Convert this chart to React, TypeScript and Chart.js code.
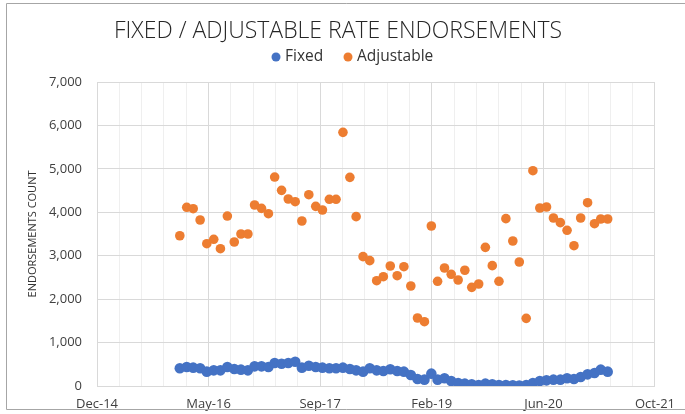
import React, { useEffect, useRef } from "react";
import { Chart, registerables } from "chart.js";

Chart.register(...registerables);

const title = "FIXED / ADJUSTABLE RATE ENDORSEMENTS";
const seriesNames = ["Fixed", "Adjustable"];
const seriesColors = ["#4472C4", "#ED7D31"];
const yAxisTitle = "ENDORSEMENTS COUNT";
const xTickLabels = ["Dec-14", "May-16", "Sep-17", "Feb-19", "Jun-20", "Oct-21"];
const axisStartDate = "2014-12-26";
const axisMajorDays = 500;

const months = [
  "2016-01", "2016-02", "2016-03", "2016-04", "2016-05", "2016-06", "2016-07", "2016-08", "2016-09", "2016-10", "2016-11", "2016-12",
  "2017-01", "2017-02", "2017-03", "2017-04", "2017-05", "2017-06", "2017-07", "2017-08", "2017-09", "2017-10", "2017-11", "2017-12",
  "2018-01", "2018-02", "2018-03", "2018-04", "2018-05", "2018-06", "2018-07", "2018-08", "2018-09", "2018-10", "2018-11", "2018-12",
  "2019-01", "2019-02", "2019-03", "2019-04", "2019-05", "2019-06", "2019-07", "2019-08", "2019-09", "2019-10", "2019-11", "2019-12",
  "2020-01", "2020-02", "2020-03", "2020-04", "2020-05", "2020-06", "2020-07", "2020-08", "2020-09", "2020-10", "2020-11", "2020-12",
  "2021-01", "2021-02", "2021-03", "2021-04",
];

const fixedValues = [
  407, 437, 422, 407, 330, 360, 360, 437, 391, 376, 360, 452,
  452, 437, 530, 514, 530, 560, 422, 468, 437, 422, 407, 407,
  422, 391, 360, 330, 407, 360, 345, 385, 345, 330, 253, 161,
  146, 284, 146, 177, 115, 69, 54, 38, 23, 54, 38, 23,
  23, 15, 10, 23, 69, 115, 130, 146, 146, 177, 161, 207,
  268, 300, 376, 330,
];

const adjustableValues = [
  3460, 4115, 4083, 3822, 3277, 3378, 3162, 3914, 3316, 3500, 3500, 4168,
  4091, 3968, 4812, 4505, 4306, 4244, 3799, 4405, 4137, 4053, 4299, 4299,
  5841, 4805, 3899, 2978, 2886, 2425, 2517, 2763, 2540, 2747, 2303, 1566,
  1481, 3684, 2411, 2717, 2572, 2441, 2665, 2272, 2349, 3193, 2771, 2411,
  3853, 3339, 2855, 1558, 4958, 4099, 4122, 3868, 3761, 3585, 3231, 3868,
  4221, 3737, 3845, 3845,
];

const DAY = 86400000;
function daysFromStart(ym: string): number {
  const [y, m] = ym.split("-").map(Number);
  const [sy, sm, sd] = axisStartDate.split("-").map(Number);
  return (Date.UTC(y, m - 1, 1) - Date.UTC(sy, sm - 1, sd)) / DAY;
}

const fmt = new Intl.NumberFormat("en-US");

const frameAndHeader = {
  id: "frameAndHeader",
  beforeDraw(chart: any) {
    const ctx = chart.ctx;
    ctx.save();
    ctx.fillStyle = "#ffffff";
    ctx.fillRect(0, 0, chart.width, chart.height);
    ctx.restore();
  },
  afterDraw(chart: any) {
    const ctx = chart.ctx;
    ctx.save();
    // chart frame
    ctx.strokeStyle = "#a6a6a6";
    ctx.lineWidth = 1;
    ctx.beginPath();
    ctx.moveTo(690, 3.5);
    ctx.lineTo(6.5, 3.5);
    ctx.lineTo(6.5, 409.5);
    ctx.lineTo(690, 409.5);
    ctx.stroke();
    // title
    ctx.fillStyle = "#262626";
    ctx.font = '300 23px "Open Sans"';
    ctx.textAlign = "center";
    ctx.textBaseline = "middle";
    ctx.fillText(title, 338, 31);
    // legend
    const legendItems = [
      { x: 276, name: seriesNames[0], color: seriesColors[0] },
      { x: 348, name: seriesNames[1], color: seriesColors[1] },
    ];
    ctx.font = '15.5px "Open Sans"';
    ctx.textAlign = "left";
    for (const it of legendItems) {
      ctx.fillStyle = it.color;
      ctx.beginPath();
      ctx.arc(it.x, 57, 4.5, 0, Math.PI * 2);
      ctx.fill();
      ctx.fillStyle = "#333333";
      ctx.fillText(it.name, it.x + 9, 57);
    }
    ctx.restore();
  },
};

export default function App() {
  const canvasRef = useRef<HTMLCanvasElement | null>(null);

  useEffect(() => {
    const canvas = canvasRef.current;
    if (!canvas) return;
    const xs = months.map(daysFromStart);
    const chart = new Chart(canvas, {
      type: "scatter",
      plugins: [frameAndHeader],
      data: {
        datasets: [
          {
            label: seriesNames[0],
            data: xs.map((x, i) => ({ x, y: fixedValues[i] })),
            backgroundColor: seriesColors[0],
            borderColor: seriesColors[0],
            pointRadius: 5.3,
            pointHoverRadius: 5.3,
            borderWidth: 0,
          },
          {
            label: seriesNames[1],
            data: xs.map((x, i) => ({ x, y: adjustableValues[i] })),
            backgroundColor: seriesColors[1],
            borderColor: seriesColors[1],
            pointRadius: 4.8,
            pointHoverRadius: 4.8,
            borderWidth: 0,
          },
        ],
      },
      options: {
        responsive: false,
        animation: false,
        devicePixelRatio: 1,
        layout: { padding: { left: 0, right: 28, top: 82, bottom: 0 } },
        plugins: {
          legend: { display: false },
          title: { display: false },
          tooltip: { enabled: false },
        },
        scales: {
          x: {
            type: "linear",
            min: 0,
            max: axisMajorDays * (xTickLabels.length - 1),
            afterFit: (s: any) => {
              s.height = 28;
            },
            afterBuildTicks: (s: any) => {
              const t = [];
              for (let v = 0; v <= axisMajorDays * (xTickLabels.length - 1); v += axisMajorDays / 5) t.push({ value: v });
              s.ticks = t;
            },
            ticks: {
              autoSkip: false,
              maxRotation: 0,
              minRotation: 0,
              padding: 10,
              color: "#404040",
              font: { family: "Open Sans", size: 13 },
              callback: (v: any) => (Number(v) % axisMajorDays === 0 ? xTickLabels[Number(v) / axisMajorDays] : ""),
            },
            grid: {
              drawTicks: false,
              color: (c: any) => (c.tick && c.tick.value % axisMajorDays === 0 ? "#d9d9d9" : "#efefef"),
            },
            border: { display: true, color: "#d9d9d9" },
          },
          y: {
            min: 0,
            max: 7000,
            afterFit: (s: any) => {
              s.width = 97;
            },
            ticks: {
              stepSize: 1000,
              padding: 15,
              color: "#404040",
              font: { family: "Open Sans", size: 13 },
              callback: (v: any) => fmt.format(Number(v)),
            },
            grid: { drawTicks: false, color: "#d9d9d9" },
            border: { display: false },
            title: {
              display: true,
              text: yAxisTitle,
              color: "#333333",
              font: { family: "Open Sans", size: 11 },
              padding: { top: 26, bottom: 0 },
            },
          },
        },
      },
    });
    return () => chart.destroy();
  }, []);

  return (
    <div style={{ position: "fixed", left: 0, top: 0, width: 685, height: 414, background: "#fff" }}>
      <canvas ref={canvasRef} width={685} height={414} style={{ display: "block" }} />
    </div>
  );
}
